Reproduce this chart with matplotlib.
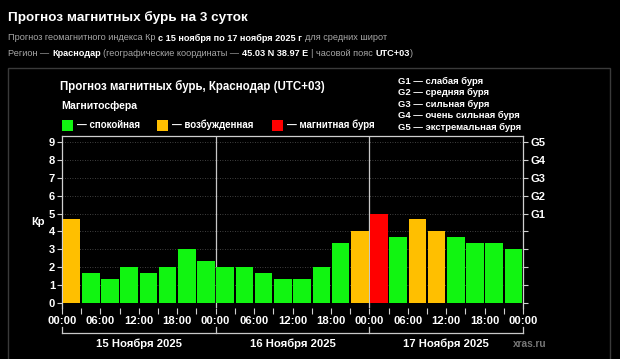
import matplotlib
matplotlib.use("Agg")
import matplotlib.pyplot as plt
import matplotlib.transforms as mtransforms
from matplotlib.patches import Rectangle

plt.rcParams['font.family'] = ['Liberation Sans', 'DejaVu Sans']

# ---- data ----
kp_values = [4.67, 1.67, 1.33, 2.0, 1.67, 2.0, 3.0, 2.33,
             2.0, 2.0, 1.67, 1.33, 1.33, 2.0, 3.33, 4.0,
             5.0, 3.67, 4.67, 4.0, 3.67, 3.33, 3.33, 3.0]
hours = [3 * i for i in range(24)]
x_tick_labels = ["00:00", "06:00", "12:00", "18:00"] * 3 + ["00:00"]
day_labels = ["15 Ноября 2025", "16 Ноября 2025", "17 Ноября 2025"]
g_levels = [5, 6, 7, 8, 9]
g_labels = ["G1", "G2", "G3", "G4", "G5"]
g_legend = ["G1 — слабая буря", "G2 — средняя буря", "G3 — сильная буря",
            "G4 — очень сильная буря", "G5 — экстремальная буря"]
state_labels = ["— спокойная", "— возбужденная", "— магнитная буря"]

GREEN = "#11f511"
ORANGE = "#ffbf00"
RED = "#ff0000"

def color_for(v):
    if v >= 5:
        return RED
    if v >= 4:
        return ORANGE
    return GREEN

W, H = 620, 359
fig = plt.figure(figsize=(W / 100, H / 100), dpi=100, facecolor="black")

def px(x, y):
    return x / W, 1 - y / H

# outer frame
frame = Rectangle(px(8, 400), 602 / W, (400 - 68) / H, transform=fig.transFigure,
                  fill=False, edgecolor="#3a3a3a", lw=1.0)
fig.patches.append(frame)

renderer = fig.canvas.get_renderer()

def runs(x, y, parts, size, gap=2.8):
    for text, bold, color, g in parts:
        t = fig.text(*px(x, y), text, fontsize=size, color=color,
                     fontweight="bold" if bold else "normal", va="center", ha="left")
        bb = t.get_window_extent(renderer=renderer)
        x += bb.width + (gap if g else 0.3)

fig.text(*px(8, 17), "Прогноз магнитных бурь на 3 суток", fontsize=9.7,
         color="white", fontweight="bold", va="center", ha="left")
GREY = "#a8a8a8"
runs(8, 38, [("Прогноз геомагнитного индекса Кр", False, GREY, True),
             ("с 15 ноября по 17 ноября 2025 г", True, "white", True),
             ("для средних широт", False, GREY, True)], 6.6)
runs(8, 53, [("Регион —", False, GREY, True),
             ("Краснодар", True, "white", True),
             ("(географические координаты —", False, GREY, True),
             ("45.03 N 38.97 E", True, "white", True),
             ("| часовой пояс", False, GREY, True),
             ("UTC+03", True, "white", False),
             (")", False, GREY, True)], 6.6)

fig.text(*px(60, 86), "Прогноз магнитных бурь, Краснодар (UTC+03)", fontsize=8.3,
         color="white", fontweight="bold", va="center", ha="left")
fig.text(*px(61, 106), "Магнитосфера", fontsize=7.6,
         color="white", fontweight="bold", va="center", ha="left")

leg_x = [62, 157, 272]
for lx, col, lab in zip(leg_x, [GREEN, ORANGE, RED], state_labels):
    fig.patches.append(Rectangle(px(lx, 130.5), 11 / W, 11 / H, transform=fig.transFigure,
                                 facecolor=col, edgecolor="none"))
    fig.text(*px(lx + 15, 125), lab, fontsize=7.0, color="white",
             fontweight="bold", va="center", ha="left")

for i, lab in enumerate(g_legend):
    fig.text(*px(398, 81.5 + i * 11.4), lab, fontsize=6.8, color="white",
             fontweight="bold", va="center", ha="left")

# ---- axes ----
ax = fig.add_axes([62 / W, 1 - 308 / H, (523 - 62) / W, (308 - 136) / H])
ax.set_facecolor("black")
bar_colors = [color_for(v) for v in kp_values]
ax.bar([h + 0.13 for h in hours], kp_values, width=2.74, align="edge",
       color=bar_colors, edgecolor="none", zorder=3)
ax.set_xlim(0, 72)
ax.set_ylim(-0.3, 9.35)

for s in ["left", "right", "top"]:
    ax.spines[s].set_color("#d0d0d0")
    ax.spines[s].set_linewidth(0.9)
ax.spines["bottom"].set_visible(False)

ax.set_yticks(range(10))
ax.tick_params(axis="y", colors="#d0d0d0", labelcolor="white", length=3.5, width=0.8,
               labelsize=8, pad=1.5)
for lab in ax.get_yticklabels():
    lab.set_fontweight("bold")
ax.set_xticks(range(0, 73, 3))
ax.set_xticklabels([x_tick_labels[i // 2] if i % 2 == 0 else "" for i in range(25)])
ax.tick_params(axis="x", colors="#d0d0d0", labelcolor="white", length=4, width=0.8,
               labelsize=8.1, pad=2)
for lab in ax.get_xticklabels():
    lab.set_fontweight("bold")

for yv in range(1, 10):
    ax.axhline(yv, color="#555555", lw=0.6, ls=(0, (1, 2)), zorder=1)
for xv in (24, 48):
    ax.axvline(xv, color="#c8c8c8", lw=0.9, zorder=2)

ax.set_ylabel("Кр", color="white", fontsize=8, fontweight="bold", rotation=0,
              labelpad=8)
ax.yaxis.set_label_coords(-0.052, 0.47)

ax2 = ax.twinx()
ax2.set_ylim(ax.get_ylim())
ax2.set_yticks(range(10))
ax2.set_yticklabels(["" if v not in g_levels else g_labels[g_levels.index(v)]
                     for v in range(10)])
ax2.tick_params(axis="y", colors="#d0d0d0", labelcolor="white", length=3.5, width=0.8,
                labelsize=8, pad=2)
for lab in ax2.get_yticklabels():
    lab.set_fontweight("bold")
for s in ax2.spines.values():
    s.set_visible(False)

# day brackets
trans = mtransforms.blended_transform_factory(ax.transData, ax.transAxes)
yb = (308 - 333) / (308 - 136)
yt = (308 - 327) / (308 - 136)
ax.plot([0, 72], [yb, yb], color="#c8c8c8", lw=0.9, transform=trans, clip_on=False)
for xv in (0, 24, 48, 72):
    ax.plot([xv, xv], [yb, yt], color="#c8c8c8", lw=0.9, transform=trans, clip_on=False)
yd = (308 - 344) / (308 - 136)
for i, lab in enumerate(day_labels):
    ax.text(12 + 24 * i, yd, lab, transform=trans, color="white", fontsize=8.1,
            fontweight="bold", ha="center", va="center")
fig.text(*px(513, 344), "xras.ru", fontsize=7.3, color="#777777",
         fontweight="bold", va="center", ha="left")

fig.savefig("out.png", dpi=100, facecolor="black")
